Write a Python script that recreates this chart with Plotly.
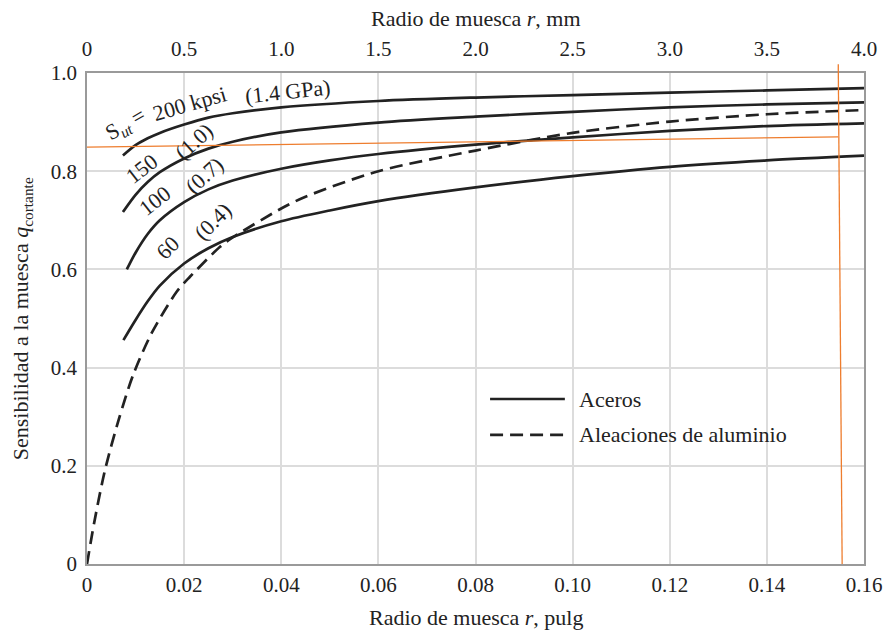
import plotly.graph_objects as go

# ---- data (r in inches, q = notch sensitivity) ----
r_200 = [0.0074, 0.010, 0.0125, 0.015, 0.020, 0.025, 0.030, 0.040, 0.060, 0.080, 0.100, 0.120, 0.140, 0.160]
q_200 = [0.832, 0.853, 0.867, 0.878, 0.895, 0.909, 0.918, 0.930, 0.943, 0.950, 0.955, 0.960, 0.9645, 0.969]

r_150 = [0.0074, 0.010, 0.0125, 0.015, 0.020, 0.025, 0.030, 0.040, 0.060, 0.080, 0.100, 0.120, 0.140, 0.160]
q_150 = [0.717, 0.752, 0.778, 0.798, 0.826, 0.846, 0.860, 0.879, 0.899, 0.911, 0.921, 0.930, 0.936, 0.940]

r_100 = [0.0082, 0.010, 0.0125, 0.015, 0.020, 0.025, 0.030, 0.040, 0.050, 0.060, 0.080, 0.100, 0.120, 0.140, 0.160]
q_100 = [0.600, 0.634, 0.672, 0.700, 0.737, 0.763, 0.781, 0.805, 0.822, 0.835, 0.854, 0.869, 0.882, 0.892, 0.8975]

r_60 = [0.0075, 0.010, 0.0125, 0.015, 0.020, 0.025, 0.030, 0.040, 0.050, 0.060, 0.080, 0.100, 0.120, 0.140, 0.160]
q_60 = [0.456, 0.497, 0.535, 0.567, 0.612, 0.643, 0.666, 0.698, 0.720, 0.739, 0.767, 0.790, 0.809, 0.822, 0.8316]

r_al = [0.0, 0.0015, 0.0037, 0.0065, 0.0095, 0.0133, 0.0185, 0.0212, 0.0274, 0.030, 0.040, 0.045, 0.060, 0.080, 0.100, 0.120, 0.140, 0.160]
q_al = [0.0, 0.085, 0.191, 0.293, 0.385, 0.470, 0.555, 0.585, 0.646, 0.665, 0.724, 0.748, 0.800, 0.842, 0.878, 0.901, 0.916, 0.9246]

# orange reading lines
orange_h_r = [0.0, 0.1547]
orange_h_q = [0.849, 0.870]
orange_v_r = [0.1547, 0.1555]      # top, bottom
orange_v_q = [1.018, 0.0]

x_ticks = [0, 0.02, 0.04, 0.06, 0.08, 0.10, 0.12, 0.14, 0.16]
x_ticktext = ["0", "0.02", "0.04", "0.06", "0.08", "0.10", "0.12", "0.14", "0.16"]
mm_ticks = [0, 0.5, 1.0, 1.5, 2.0, 2.5, 3.0, 3.5, 4.0]
mm_ticktext = ["0", "0.5", "1.0", "1.5", "2.0", "2.5", "3.0", "3.5", "4.0"]
y_ticks = [0, 0.2, 0.4, 0.6, 0.8, 1.0]
y_ticktext = ["0", "0.2", "0.4", "0.6", "0.8", "1.0"]

curve_labels = [
    ("S<sub><i>ut</i></sub> =", 0.0080, 0.894, -30),
    ("200 kpsi", 0.0212, 0.938, -16),
    ("(1.4 GPa)", 0.0414, 0.962, -6),
    ("150", 0.0113, 0.806, -38),
    ("(1.0)", 0.0220, 0.860, -42),
    ("100", 0.0140, 0.741, -38),
    ("(0.7)", 0.0241, 0.792, -42),
    ("60", 0.0167, 0.644, -45),
    ("(0.4)", 0.0259, 0.697, -45),
]

legend_items = [("Aceros", None, 0.336), ("Aleaciones de aluminio", "13px,7px", 0.263)]
legend_x0, legend_x1, legend_tx = 0.0830, 0.0984, 0.1010

FONT = "Liberation Serif, Times New Roman, serif"
INK = "#222222"
ORANGE = "#EE7D2E"
FS_TICK = 21
FS_TXT = 22

fig = go.Figure()

for rr, qq in [(r_200, q_200), (r_150, q_150), (r_100, q_100), (r_60, q_60)]:
    fig.add_trace(go.Scatter(x=rr, y=qq, mode="lines",
                             line=dict(color=INK, width=2.7, shape="spline", smoothing=0.8),
                             showlegend=False, hoverinfo="skip"))
fig.add_trace(go.Scatter(x=r_al, y=q_al, mode="lines",
                         line=dict(color=INK, width=2.7, dash="13px,7px", shape="spline", smoothing=0.8),
                         showlegend=False, hoverinfo="skip"))

fig.add_trace(go.Scatter(x=orange_h_r, y=orange_h_q, mode="lines", line=dict(color=ORANGE, width=1.3),
                         showlegend=False, hoverinfo="skip"))

# invisible trace to activate top mm axis
fig.add_trace(go.Scatter(x=[mm_ticks[0], mm_ticks[-1]], y=[0, 0], xaxis="x2", mode="lines",
                         line=dict(width=0), opacity=0, showlegend=False, hoverinfo="skip"))

fig.add_shape(type="line", xref="x", yref="paper", x0=orange_v_r[0], y0=orange_v_q[0],
              x1=orange_v_r[1], y1=orange_v_q[1], line=dict(color=ORANGE, width=1.3))

for text, dash, qy in legend_items:
    fig.add_shape(type="line", xref="x", yref="y", x0=legend_x0, x1=legend_x1, y0=qy, y1=qy,
                  line=dict(color=INK, width=2.7, dash=dash if dash else "solid"))
    fig.add_annotation(x=legend_tx, y=qy, xref="x", yref="y", text=text, showarrow=False,
                       xanchor="left", yanchor="middle", font=dict(family=FONT, size=FS_TXT, color=INK))

for text, xx, yy, ang in curve_labels:
    fig.add_annotation(x=xx, y=yy, xref="x", yref="y", text=text, showarrow=False, textangle=ang,
                       xanchor="center", yanchor="middle", font=dict(family=FONT, size=FS_TXT, color=INK))

# axis titles
fig.add_annotation(x=0.5, y=-0.108, xref="paper", yref="paper", text="Radio de muesca <i>r</i>, pulg",
                   showarrow=False, xanchor="center", yanchor="middle", font=dict(family=FONT, size=FS_TXT, color=INK))
fig.add_annotation(x=0.5, y=1.112, xref="paper", yref="paper", text="Radio de muesca <i>r</i>, mm",
                   showarrow=False, xanchor="center", yanchor="middle", font=dict(family=FONT, size=FS_TXT, color=INK))
fig.add_annotation(x=-0.084, y=0.5, xref="paper", yref="paper",
                   text="Sensibilidad a la muesca <i>q</i><sub>cortante</sub>", textangle=-90,
                   showarrow=False, xanchor="center", yanchor="middle", font=dict(family=FONT, size=22, color=INK))

fig.update_layout(
    width=887, height=633,
    margin=dict(l=87, r=23, t=73, b=69, autoexpand=False),
    paper_bgcolor="white", plot_bgcolor="white",
    font=dict(family=FONT, size=FS_TICK, color=INK),
    xaxis=dict(range=[0, 0.16], tickvals=x_ticks, ticktext=x_ticktext, showgrid=True, automargin=False,
               gridcolor="#DCDCDC", gridwidth=1.5, showline=True, linecolor="#9A9A9A", linewidth=1.5,
               mirror=True, ticks="", zeroline=False, ticklabelstandoff=1),
    xaxis2=dict(range=[0, 4.0], overlaying="x", side="top", tickvals=mm_ticks, ticktext=mm_ticktext,
                showgrid=False, showline=False, ticks="", zeroline=False, ticklabelstandoff=12, automargin=False),
    yaxis=dict(range=[0, 1.0], tickvals=y_ticks, ticktext=y_ticktext, showgrid=True, automargin=False,
               gridcolor="#DCDCDC", gridwidth=1.5, showline=True, linecolor="#9A9A9A", linewidth=1.5,
               mirror=True, ticks="", zeroline=False, ticklabelstandoff=4),
)

fig.write_html("out.html")
